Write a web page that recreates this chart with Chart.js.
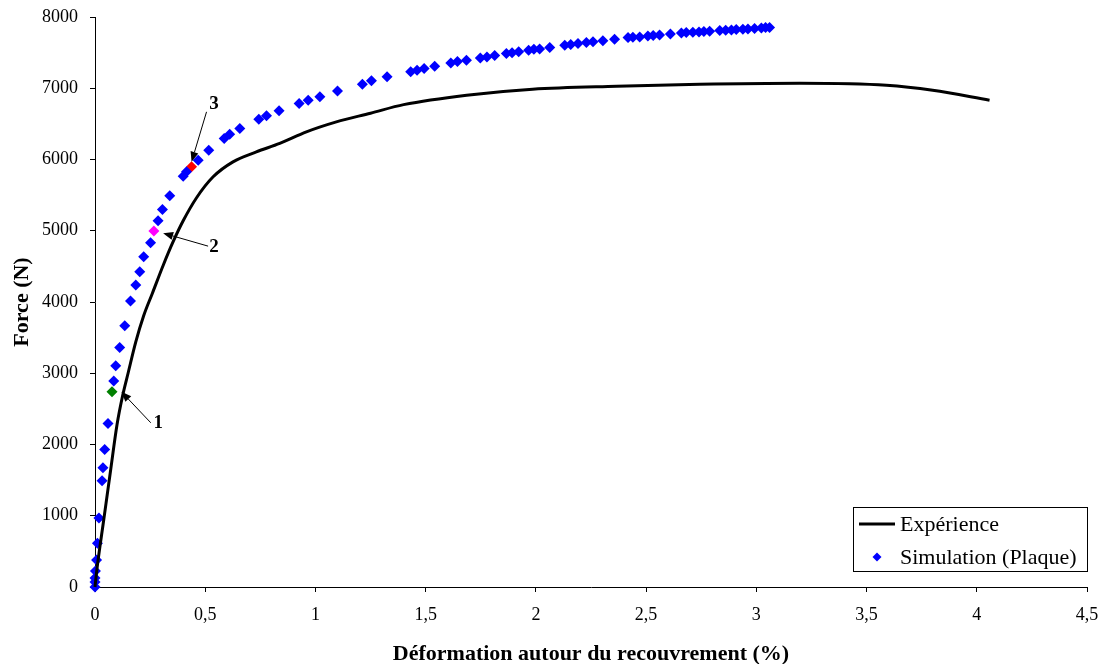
<!DOCTYPE html>
<html>
<head>
<meta charset="utf-8">
<script src="https://cdn.jsdelivr.net/npm/chart.js@4"></script>
<style>
  html, body { margin: 0; padding: 0; background: #fff; }
  #chart { display: block; }
</style>
</head>
<body>
<canvas id="chart" width="1103" height="664"></canvas>
<script>
// courbe expérimentale (déformation %, force N)
const expX = [0, 0.01, 0.04, 0.07, 0.1, 0.125, 0.15, 0.185, 0.22, 0.26, 0.31, 0.355, 0.40, 0.46, 0.536, 0.626, 0.732, 0.838, 0.959, 1.095, 1.25, 1.4, 1.686, 1.985, 2.366, 2.743, 3.197, 3.59, 3.80, 4.058];
const expY = [0, 280, 950, 1620, 2280, 2680, 3000, 3440, 3800, 4120, 4520, 4850, 5140, 5460, 5757, 5967, 6107, 6225, 6388, 6528, 6650, 6770, 6903, 6987, 7029, 7057, 7071, 7043, 6973, 6833];

// simulation (plaque)
const simX = [0, 0, 0, 0.002, 0.007, 0.011, 0.018, 0.032, 0.036, 0.044, 0.059, 0.085, 0.094, 0.112, 0.135, 0.161, 0.185, 0.203, 0.221, 0.252, 0.286, 0.306, 0.339, 0.400, 0.415,
  0.468, 0.516, 0.586, 0.611, 0.657, 0.743, 0.778, 0.835, 0.926, 0.967, 1.02, 1.100, 1.213, 1.254, 1.325, 1.432, 1.461, 1.493, 1.541, 1.614, 1.644, 1.685, 1.748, 1.778, 1.813,
  1.866, 1.892, 1.922, 1.967, 1.991, 2.017, 2.063, 2.131, 2.158, 2.191, 2.229, 2.259, 2.304, 2.357, 2.418, 2.440, 2.471, 2.508, 2.532, 2.561, 2.610, 2.660, 2.682, 2.712,
  2.740, 2.762, 2.788, 2.834, 2.861, 2.887, 2.909, 2.939, 2.962, 2.992, 3.023, 3.042, 3.060];
const simY = [0, 70, 125, 225, 380, 615, 970, 1490, 1675, 1930, 2295, 2890, 3105, 3363, 3666, 4013, 4237, 4424, 4634, 4830, 5139, 5299, 5490, 5766, 5827,
  5991, 6131, 6295, 6356, 6436, 6566, 6613, 6683, 6786, 6833, 6879, 6963, 7057, 7104, 7160, 7230, 7254, 7277, 7310, 7356, 7375, 7394, 7426, 7440, 7459,
  7488, 7497, 7511, 7534, 7548, 7552, 7572, 7604, 7614, 7628, 7642, 7651, 7665, 7688, 7712, 7716, 7721, 7735, 7740, 7749, 7763, 7777, 7782, 7786,
  7791, 7796, 7800, 7810, 7815, 7819, 7824, 7828, 7833, 7838, 7847, 7852, 7852];

// points repérés 1, 2, 3
const markX = [0.077, 0.267, 0.438];
const markY = [2740, 4995, 5900];
const markColors = ['#008000', '#ff00ff', '#ff0000'];

// flèches d'annotation
const noteLabels = ['1', '2', '3'];
const noteTipX = [0.12, 0.309, 0.438];
const noteTipY = [2740, 4966, 5967];
const noteTailX = [0.253, 0.513, 0.506];
const noteTailY = [2305, 4784, 6669];
const noteTextX = [0.287, 0.54, 0.54];
const noteTextY = [2297, 4775, 6776];

const xTicks = [0, 0.5, 1, 1.5, 2, 2.5, 3, 3.5, 4, 4.5];
const yTicks = [0, 1000, 2000, 3000, 4000, 5000, 6000, 7000, 8000];

const FONT = "'Liberation Serif', 'Times New Roman', serif";

function toPoints(xs, ys) {
    return xs.map((x, i) => ({ x: x, y: ys[i] }));
}

// flèches + numéros
const notesPlugin = {
    id: 'notes',
    afterDatasetsDraw(chart) {
        const ctx = chart.ctx;
        const sx = chart.scales.x, sy = chart.scales.y;
        ctx.save();
        ctx.strokeStyle = '#000';
        ctx.fillStyle = '#000';
        ctx.lineWidth = 1;
        noteLabels.forEach((lab, i) => {
            const x1 = sx.getPixelForValue(noteTailX[i]), y1 = sy.getPixelForValue(noteTailY[i]);
            const x2 = sx.getPixelForValue(noteTipX[i]), y2 = sy.getPixelForValue(noteTipY[i]);
            const a = Math.atan2(y2 - y1, x2 - x1);
            const hl = 10, hw = 4;
            const bx = x2 - hl * Math.cos(a), by = y2 - hl * Math.sin(a);
            ctx.beginPath();
            ctx.moveTo(x1, y1);
            ctx.lineTo(bx, by);
            ctx.stroke();
            ctx.beginPath();
            ctx.moveTo(x2, y2);
            ctx.lineTo(bx + hw * Math.sin(a), by - hw * Math.cos(a));
            ctx.lineTo(bx - hw * Math.sin(a), by + hw * Math.cos(a));
            ctx.closePath();
            ctx.fill();
            ctx.font = 'bold 19px ' + FONT;
            ctx.textAlign = 'center';
            ctx.textBaseline = 'middle';
            ctx.fillText(lab, sx.getPixelForValue(noteTextX[i]), sy.getPixelForValue(noteTextY[i]));
        });
        ctx.restore();
    }
};

// légende encadrée en bas à droite
const boxLegend = {
    id: 'boxLegend',
    afterDraw(chart) {
        const ctx = chart.ctx;
        const area = chart.chartArea;
        const w = 234, h = 64;
        const left = area.right - w, top = area.bottom - 16 - h;
        ctx.save();
        ctx.fillStyle = '#fff';
        ctx.fillRect(left, top, w, h);
        ctx.strokeStyle = '#000';
        ctx.lineWidth = 1;
        ctx.strokeRect(left + 0.5, top + 0.5, w, h);
        // Expérience
        ctx.lineWidth = 3;
        ctx.beginPath();
        ctx.moveTo(left + 6, top + 17);
        ctx.lineTo(left + 42, top + 17);
        ctx.stroke();
        // Simulation
        const dx = left + 24, dy = top + 50, r = 4.5;
        ctx.fillStyle = '#0000ff';
        ctx.beginPath();
        ctx.moveTo(dx, dy - r);
        ctx.lineTo(dx + r, dy);
        ctx.lineTo(dx, dy + r);
        ctx.lineTo(dx - r, dy);
        ctx.closePath();
        ctx.fill();
        ctx.fillStyle = '#000';
        ctx.font = '22px ' + FONT;
        ctx.textAlign = 'left';
        ctx.textBaseline = 'middle';
        ctx.fillText('Expérience', left + 47, top + 18);
        ctx.fillText('Simulation (Plaque)', left + 47, top + 51);
        ctx.restore();
    }
};

const chart = new Chart(document.getElementById('chart'), {
    type: 'scatter',
    data: {
        datasets: [
            {
                label: 'Expérience',
                data: toPoints(expX, expY),
                showLine: true,
                borderColor: '#000',
                borderWidth: 3,
                pointRadius: 0,
                cubicInterpolationMode: 'monotone',
                clip: false
            },
            {
                label: 'Simulation (Plaque)',
                data: toPoints(simX, simY),
                pointStyle: 'rectRot',
                pointRadius: 5.5,
                pointBorderWidth: 0,
                backgroundColor: '#0000ff',
                borderColor: '#0000ff',
                clip: false
            },
            {
                label: 'Points',
                data: toPoints(markX, markY),
                pointStyle: 'rectRot',
                pointRadius: 5.5,
                pointBorderWidth: 0,
                backgroundColor: markColors,
                borderColor: markColors,
                clip: false
            }
        ]
    },
    options: {
        responsive: false,
        animation: false,
        devicePixelRatio: 1,
        layout: {
            padding: { top: 17, right: 16, left: 0, bottom: 0 }
        },
        plugins: {
            legend: { display: false },
            tooltip: { enabled: false }
        },
        scales: {
            x: {
                type: 'linear',
                min: 0,
                max: 4.5,
                afterFit: s => {
                    s.height = 77;
                    s.paddingLeft = 0;
                    s.paddingRight = 0;
                },
                afterBuildTicks: s => { s.ticks = xTicks.map(v => ({ value: v })); },
                ticks: {
                    color: '#000',
                    font: { family: FONT, size: 18 },
                    padding: 12,
                    maxRotation: 0,
                    callback: v => String(v).replace('.', ',')
                },
                grid: { drawOnChartArea: false, color: '#000', tickLength: 5 },
                border: { color: '#000', width: 1 },
                title: {
                    display: true,
                    text: 'Déformation autour du recouvrement (%)',
                    color: '#000',
                    font: { family: FONT, size: 22, weight: 'bold' },
                    padding: { top: 0, bottom: -4 }
                }
            },
            y: {
                min: 0,
                max: 8000,
                afterFit: s => {
                    s.width = 95;
                    s.paddingTop = 0;
                    s.paddingBottom = 0;
                },
                afterBuildTicks: s => { s.ticks = yTicks.map(v => ({ value: v })); },
                ticks: {
                    color: '#000',
                    font: { family: FONT, size: 18 },
                    padding: 12,
                    callback: v => String(v)
                },
                grid: { drawOnChartArea: false, color: '#000', tickLength: 5 },
                border: { color: '#000', width: 1 },
                title: {
                    display: true,
                    text: 'Force (N)',
                    color: '#000',
                    font: { family: FONT, size: 22, weight: 'bold' },
                    padding: { top: 9, bottom: 0 }
                }
            }
        }
    },
    plugins: [notesPlugin, boxLegend]
});
</script>
</body>
</html>
